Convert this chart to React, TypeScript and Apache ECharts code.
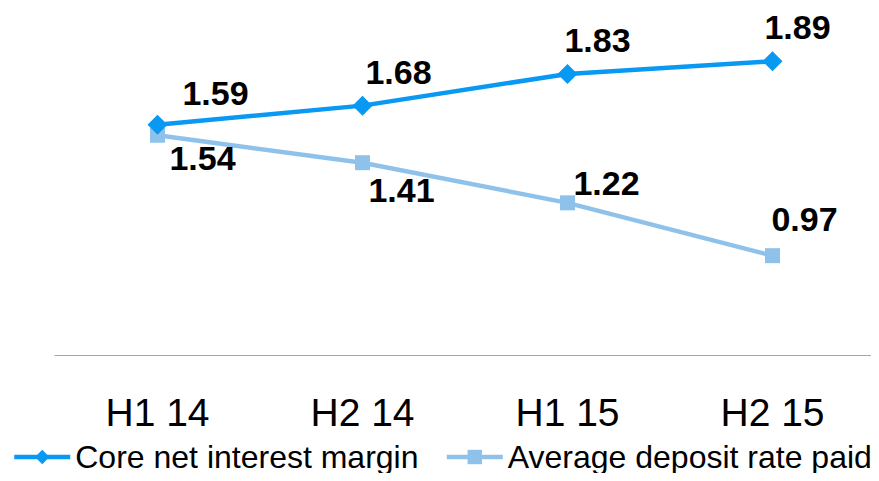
import React, { useEffect, useRef } from "react";
import * as echarts from "echarts";

const categories = ["H1 14", "H2 14", "H1 15", "H2 15"];
const coreNetInterestMargin = [1.59, 1.68, 1.83, 1.89];
const averageDepositRate = [1.54, 1.41, 1.22, 0.97];

// Label placement (offset from each point's centre), kept apart from the values
const coreLabelOffsets: [number, number][] = [[58, -32], [36, -34], [30, -34], [25, -34]];
const depositLabelOffsets: [number, number][] = [[45, 23], [39, 27], [39, -20], [32, -37]];

const FONT = "'Liberation Sans', Arial, sans-serif";
const CORE_COLOR = "#0A99F2";
const DEPOSIT_COLOR = "#8EC2EA";

export default function App() {
  const ref = useRef<HTMLDivElement>(null);

  useEffect(() => {
    if (!ref.current) return;
    const chart = echarts.init(ref.current, null, { renderer: "svg" });

    const labelFor = (offsets: [number, number][]) => (v: number, i: number) => ({
      value: v,
      label: { offset: offsets[i] },
    });

    const baseLabel = {
      show: true,
      position: "inside" as const,
      fontFamily: FONT,
      fontWeight: "bold" as const,
      fontSize: 34,
      color: "#000",
      formatter: (p: any) => Number(p.value).toFixed(2),
    };

    chart.setOption({
      animation: false,
      textStyle: { fontFamily: FONT },
      grid: { left: 55, right: 4, top: 38, bottom: 126 },
      xAxis: {
        type: "category",
        data: categories,
        boundaryGap: true,
        axisLine: { show: true, lineStyle: { color: "#A6A6A6", width: 1 } },
        axisTick: { show: false },
        axisLabel: {
          fontFamily: FONT,
          fontSize: 39,
          color: "#000",
          margin: 38,
          lineHeight: 39,
        },
      },
      yAxis: {
        type: "value",
        min: 0.5,
        max: 2.0,
        show: false,
        splitLine: { show: false },
      },
      legend: {
        left: 12,
        bottom: 4,
        width: 867,
        padding: [4, 0],
        itemWidth: 56,
        itemHeight: 18,
        itemGap: 26,
        lineStyle: { width: 4.5 },
        textStyle: { fontFamily: FONT, fontSize: 32, color: "#000" },
        data: ["Core net interest margin", "Average deposit rate paid"],
      },
      series: [
        {
          name: "Core net interest margin",
          type: "line",
          data: coreNetInterestMargin.map(labelFor(coreLabelOffsets)),
          symbol: "diamond",
          symbolSize: 20,
          itemStyle: { color: CORE_COLOR },
          lineStyle: { color: CORE_COLOR, width: 4.5 },
          label: baseLabel,
          z: 3,
        },
        {
          name: "Average deposit rate paid",
          type: "line",
          data: averageDepositRate.map(labelFor(depositLabelOffsets)),
          symbol: "rect",
          symbolSize: 15,
          itemStyle: { color: DEPOSIT_COLOR },
          lineStyle: { color: DEPOSIT_COLOR, width: 4.5 },
          label: baseLabel,
          z: 2,
        },
      ],
    });

    return () => chart.dispose();
  }, []);

  return <div ref={ref} style={{ width: 879, height: 481, margin: -8 }} />;
}
